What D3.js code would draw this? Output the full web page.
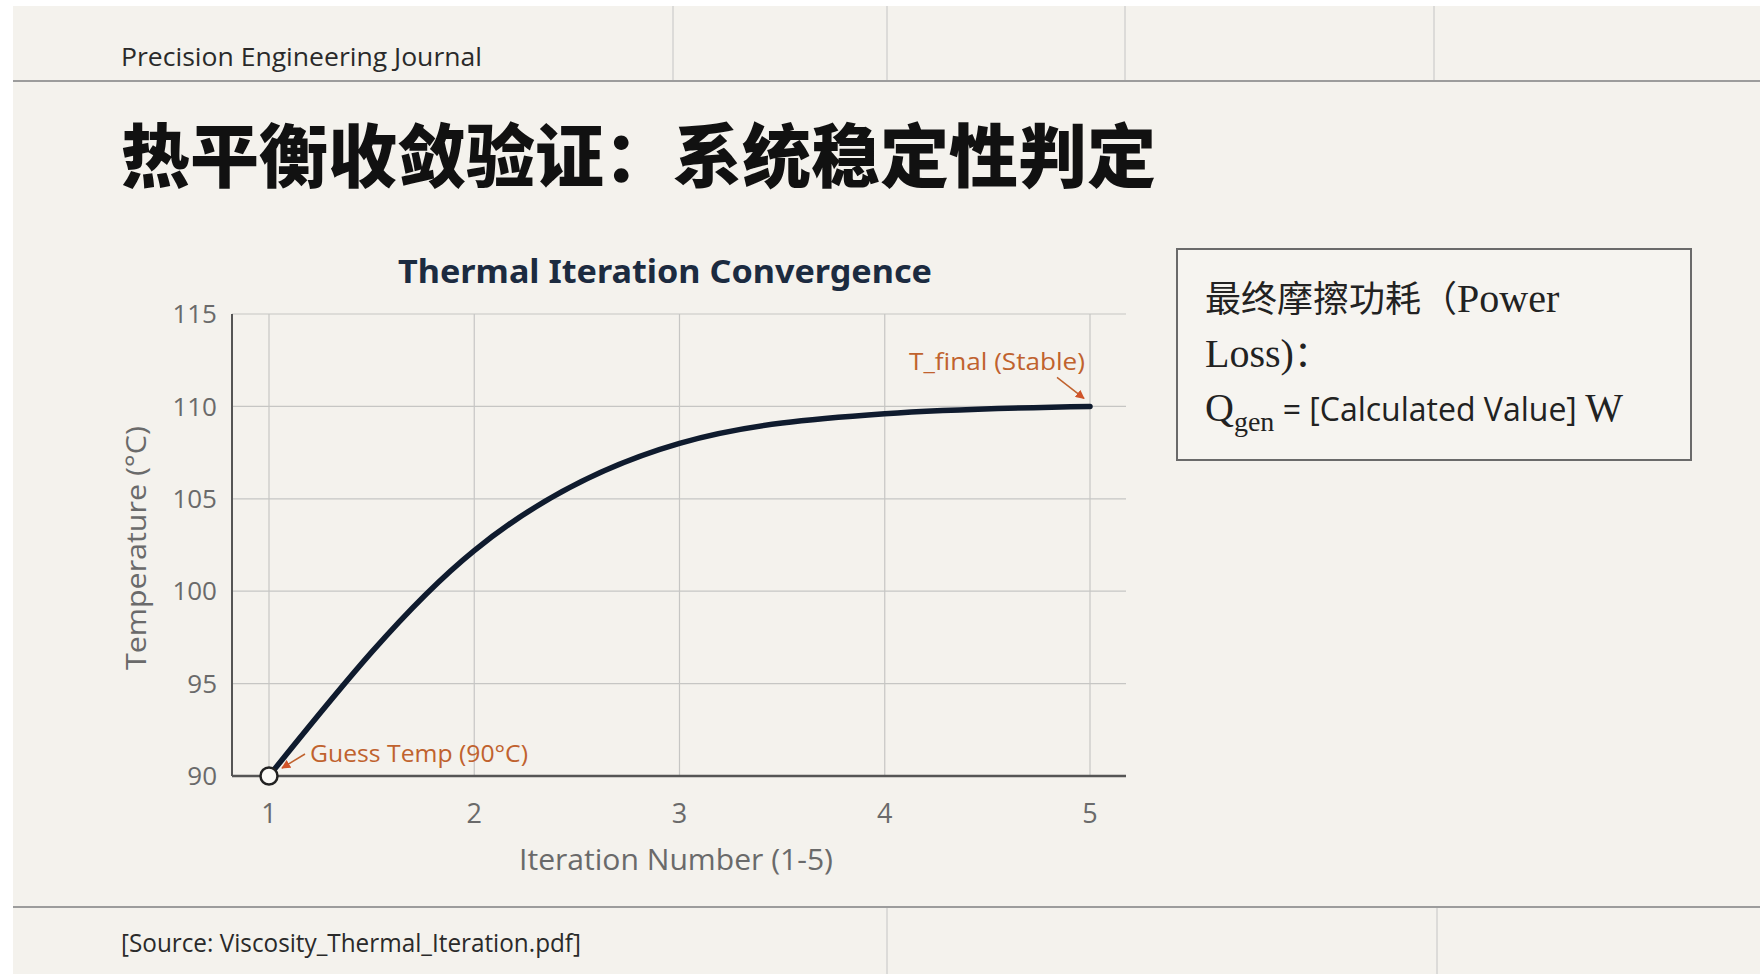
<!DOCTYPE html>
<html lang="zh">
<head>
<meta charset="UTF-8">
<title>热平衡收敛验证</title>
<script src="https://d3js.org/d3.v7.min.js"></script>
<style>
  html, body { margin: 0; padding: 0; background: #fff; }
  svg { display: block; font-family: "Open Sans", "Noto Sans", sans-serif; }
</style>
</head>
<body>
<div id="chart"></div>
<script>
// data
const iterations = [1, 2, 3, 4, 5];
const temps = [90, 102.2, 108.0, 109.6, 110.0];
const yTicks = [90, 95, 100, 105, 110, 115];
const xTicks = [1, 2, 3, 4, 5];

const W = 1760, H = 974;
const bg = "#f4f2ed";
const accent = "#c0622e";

const svg = d3.select("#chart").append("svg")
  .attr("width", W).attr("height", H);

const defs = svg.append("defs");
defs.append("marker")
  .attr("id", "arrow")
  .attr("viewBox", "0 0 10 10")
  .attr("refX", 9).attr("refY", 5)
  .attr("markerWidth", 6).attr("markerHeight", 6)
  .attr("orient", "auto")
  .append("path")
  .attr("d", "M0,0 L10,5 L0,10 z")
  .attr("fill", "#d0542a");

// page
svg.append("rect").attr("x", 13).attr("y", 6)
  .attr("width", W - 13).attr("height", H - 6).attr("fill", bg);

// header / footer frame
svg.append("line").attr("x1", 13).attr("x2", W).attr("y1", 81).attr("y2", 81)
  .attr("stroke", "#9c9c9c").attr("stroke-width", 2);
svg.append("line").attr("x1", 13).attr("x2", W).attr("y1", 907).attr("y2", 907)
  .attr("stroke", "#9c9c9c").attr("stroke-width", 2);
[673, 887, 1125, 1434].forEach(x => {
  svg.append("line").attr("x1", x).attr("x2", x).attr("y1", 6).attr("y2", 80)
    .attr("stroke", "#c4c4c4").attr("stroke-width", 1);
});
[887, 1437].forEach(x => {
  svg.append("line").attr("x1", x).attr("x2", x).attr("y1", 908).attr("y2", H)
    .attr("stroke", "#c4c4c4").attr("stroke-width", 1);
});

svg.append("text").attr("x", 121).attr("y", 66)
  .attr("font-size", 25).attr("fill", "#2a2a2a")
  .attr("textLength", 361).attr("lengthAdjust", "spacingAndGlyphs")
  .text("Precision Engineering Journal");

svg.append("text").attr("x", 121).attr("y", 952)
  .attr("font-size", 25).attr("fill", "#2a2a2a")
  .attr("textLength", 460).attr("lengthAdjust", "spacingAndGlyphs")
  .text("[Source: Viscosity_Thermal_Iteration.pdf]");

svg.append("text").attr("x", 121).attr("y", 182)
  .attr("font-family", "'Noto Sans CJK SC', sans-serif")
  .attr("font-size", 69).attr("font-weight", 900).attr("fill", "#111")
  .text("热平衡收敛验证：系统稳定性判定");

// chart
const plot = { left: 232, right: 1126, top: 314, bottom: 776 };
const x = d3.scaleLinear().domain([1, 5]).range([269, 1090]);
const y = d3.scaleLinear().domain([90, 115]).range([plot.bottom, plot.top]);

svg.append("text").attr("x", 665).attr("y", 283)
  .attr("text-anchor", "middle")
  .attr("font-family", "'Noto Sans', sans-serif")
  .attr("font-size", 33).attr("font-weight", 700).attr("fill", "#1c2b40")
  .attr("textLength", 534).attr("lengthAdjust", "spacingAndGlyphs")
  .text("Thermal Iteration Convergence");

const g = svg.append("g");

g.selectAll(".hgrid").data(yTicks.filter(d => d !== 90)).enter()
  .append("line").attr("class", "hgrid")
  .attr("x1", plot.left).attr("x2", plot.right)
  .attr("y1", d => y(d)).attr("y2", d => y(d))
  .attr("stroke", "#c6c6c4").attr("stroke-width", 1.2);

g.selectAll(".vgrid").data(xTicks).enter()
  .append("line").attr("class", "vgrid")
  .attr("x1", d => x(d)).attr("x2", d => x(d))
  .attr("y1", plot.top).attr("y2", plot.bottom)
  .attr("stroke", "#c6c6c4").attr("stroke-width", 1.2);

// axis lines
g.append("line").attr("x1", plot.left).attr("x2", plot.left)
  .attr("y1", plot.top).attr("y2", plot.bottom)
  .attr("stroke", "#555").attr("stroke-width", 2);
g.append("line").attr("x1", plot.left).attr("x2", plot.right)
  .attr("y1", plot.bottom).attr("y2", plot.bottom)
  .attr("stroke", "#555").attr("stroke-width", 2.5);

g.selectAll(".ytick").data(yTicks).enter()
  .append("text").attr("class", "ytick")
  .attr("x", 217).attr("y", d => y(d))
  .attr("dy", "0.35em").attr("text-anchor", "end")
  .attr("font-size", 26).attr("fill", "#6a6a6a")
  .text(d => d);

g.selectAll(".xtick").data(xTicks).enter()
  .append("text").attr("class", "xtick")
  .attr("x", d => x(d)).attr("y", 823)
  .attr("text-anchor", "middle")
  .attr("font-size", 27).attr("fill", "#6a6a6a")
  .text(d => d);

svg.append("text")
  .attr("transform", "translate(146,548) rotate(-90)")
  .attr("text-anchor", "middle")
  .attr("font-size", 27).attr("fill", "#6a6a6a")
  .attr("textLength", 244).attr("lengthAdjust", "spacingAndGlyphs")
  .text("Temperature (°C)");

svg.append("text").attr("x", 676).attr("y", 870)
  .attr("text-anchor", "middle")
  .attr("font-size", 29).attr("fill", "#6a6a6a")
  .attr("textLength", 314).attr("lengthAdjust", "spacingAndGlyphs")
  .text("Iteration Number (1-5)");

// curve
const pts = iterations.map((it, i) => ({ it, t: temps[i] }));
g.append("path").datum(pts)
  .attr("fill", "none").attr("stroke", "#0f1b2e").attr("stroke-width", 5.5)
  .attr("stroke-linecap", "round")
  .attr("d", d3.line().curve(d3.curveMonotoneX)
    .x(d => x(d.it)).y(d => y(d.t)));

g.append("circle")
  .attr("cx", x(pts[0].it)).attr("cy", y(pts[0].t)).attr("r", 8.5)
  .attr("fill", "#faf9f6").attr("stroke", "#222").attr("stroke-width", 2.5);

// annotations
const first = pts[0], last = pts[pts.length - 1];
g.append("line")
  .attr("x1", x(first.it) + 36).attr("y1", y(first.t) - 22)
  .attr("x2", x(first.it) + 13).attr("y2", y(first.t) - 8)
  .attr("stroke", accent).attr("stroke-width", 1.5)
  .attr("marker-end", "url(#arrow)");
g.append("text")
  .attr("x", x(first.it) + 41).attr("y", y(first.t) - 14)
  .attr("font-size", 24).attr("fill", accent)
  .attr("textLength", 218).attr("lengthAdjust", "spacingAndGlyphs")
  .text("Guess Temp (90°C)");

g.append("line")
  .attr("x1", x(last.it) - 33).attr("y1", y(last.t) - 29)
  .attr("x2", x(last.it) - 6).attr("y2", y(last.t) - 8)
  .attr("stroke", accent).attr("stroke-width", 1.5)
  .attr("marker-end", "url(#arrow)");
g.append("text")
  .attr("x", x(last.it) - 5).attr("y", y(last.t) - 36)
  .attr("text-anchor", "end")
  .attr("font-size", 24).attr("fill", accent)
  .attr("textLength", 176).attr("lengthAdjust", "spacingAndGlyphs")
  .text("T_final (Stable)");

// side box
const box = svg.append("g");
box.append("rect").attr("x", 1177).attr("y", 249)
  .attr("width", 514).attr("height", 211)
  .attr("fill", "#f6f4f0").attr("stroke", "#6a6a6a").attr("stroke-width", 2);

const serif = "'Liberation Serif', 'DejaVu Serif', serif";
const cjk = "'Noto Sans CJK SC', sans-serif";

const l1 = box.append("text").attr("x", 1205).attr("y", 312)
  .attr("font-size", 36).attr("fill", "#222");
l1.append("tspan").attr("font-family", cjk).text("最终摩擦功耗（");
l1.append("tspan").attr("font-family", serif).attr("font-size", 40).text("Power");

const l2 = box.append("text").attr("x", 1205).attr("y", 367)
  .attr("font-size", 40).attr("fill", "#222");
l2.append("tspan").attr("font-family", serif).text("Loss)");
l2.append("tspan").attr("font-family", cjk).attr("font-size", 36).text("：");

const l3 = box.append("text").attr("x", 1205).attr("y", 421)
  .attr("font-size", 40).attr("fill", "#222");
l3.append("tspan").attr("font-family", serif).text("Q");
l3.append("tspan").attr("font-family", serif).attr("font-size", 28)
  .attr("dy", 10).text("gen");
l3.append("tspan").attr("font-family", "'Open Sans', sans-serif")
  .attr("font-size", 32).attr("dy", -10).text(" = [Calculated Value] ");
l3.append("tspan").attr("font-family", serif).text("W");
</script>
</body>
</html>
